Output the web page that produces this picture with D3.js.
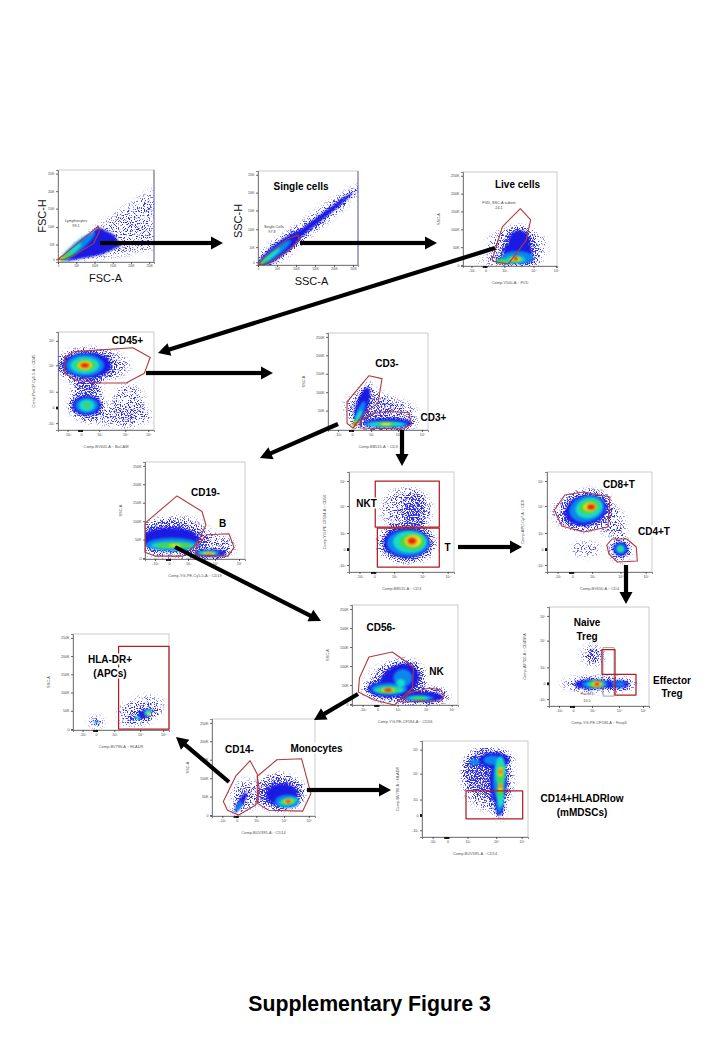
<!DOCTYPE html>
<html><head><meta charset="utf-8">
<script src="https://cdn.jsdelivr.net/npm/d3@7/dist/d3.min.js"></script>
<style>html,body{margin:0;padding:0;background:#fff}svg{display:block;font-family:"Liberation Sans",Arial,sans-serif}</style>
</head><body><div id="chart"></div>
<script>
// ---- axis tick readings (position along the axis in % of plot, and label) ----
const linearPos = [1, 20, 39, 58, 77, 96];
const linearLabels = ["0", "50K", "100K", "150K", "200K", "250K"];
const biexX = [10, 24, 43, 70, 94];
const biexXLive = [9, 24, 44, 75, 99];
const biexXLabels = ["-10³", "0", "10³", "10⁴", "10⁵"];
const biexY = [7, 23, 39, 66, 91];
const biexYLabels = ["-10³", "0", "10³", "10⁴", "10⁵"];
const zeroPileX = [21, 21.8, 22.6, 23.4, 24.2, 25];
const zeroPileY = [22, 22.6, 23.2, 23.8];

// ---- gates: polygons in % of plot ----
const lymphGate = [[0,3],[5,7],[42,39],[43,33],[37,20],[19,9],[7,3]];
const singleGate = [[0,1],[5,7],[30,28],[40,32],[41,27],[32,16],[12,3],[5,0]];
const liveGate = [[31,7],[42,42],[61,61],[72,49],[67,27],[48,2],[32,5]];
const cd45Gate = [[7,74],[17,80],[78,84],[96,74],[90,58],[71,48],[42,48],[18,51],[7,58]];
const cd3NegGate = [[41,56],[54,53],[50,28],[35,16],[25,2],[19,7],[19,29]];
const cd3PosGate = [[32,2],[33,10],[45,17],[58,19],[81,18],[83,6],[75,1]];
const cd19NegGate = [[0,37],[32,65],[57,49],[61,35],[52,16],[38,3],[10,3],[0,7]];
const bGate = [[50,4],[52,14],[62,25],[84,26],[89,12],[83,3]];
const nktGate = [[25,45],[25,91],[86,91],[86,45]];
const tGate = [[27,5],[27,44],[86,44],[86,5]];
const cd8Gate = [[7,62],[17,77],[35,80],[60,75],[58,45],[35,40],[14,46]];
const cd4Gate = [[57,27],[62,33],[76,33],[85,25],[86,11],[67,10],[59,18]];
const naiveGate = [[53,32],[53,57],[66,57],[66,32]];
const foxGreyGate = [[54,10],[54,59],[65,59],[65,10]];
const effectorGate = [[66,11],[66,32],[87,32],[87,11]];
const cd56NegGate = [[16,48],[38,53],[58,38],[57,17],[40,0],[21,5],[6,13],[7,27]];
const nkGate = [[47,3],[54,12],[73,17],[84,15],[87,10],[84,4]];
const hladrGate = [[47.5,87],[100,87],[100,1],[47.5,1]];
const cd14NegGate = [[37,57],[44,43],[44,18],[42,11],[26,1],[15,6],[11,15],[23,41]];
const monoGate = [[44,41],[63,58],[87,59],[96,23],[88,5],[55,6],[44,13],[46,27]];
const mdscGate = [[41.5,19],[41.5,48],[95,48],[95,19]];

// ---- density populations: [centre x, centre y, radius x, radius y, density level, tilt] ----
// level 0 sparse events, 0.5 denser events, 1..7 pseudocolour density blue to red
const fscWedge = [[0,0],[40,38],[100,80],[100,14],[45,4]];
const fscCore = [[0,0],[42,38],[58,30],[66,18],[45,8],[15,2]];
const fscPops = [[20,16,24,5,2,40],[13,10,15,3,3,40],[8,6,9,2,4,38],[3,2,4,1.2,5,35]];
const sscPops = [[50,40,60,8,0,38],[48,38,60,3,1,38],[22,17,28,7,1,38],[17,13,20,4.5,2,38],[12,9,13,2.5,3,38],[6,4,6,1.2,4,38]];
const livePops = [[57,21,32,20,0],[50,5,36,4,0],[59,24,16,16,0.5],[60,25,11,13,1],[58,15,15,12,1],[55,6,20,4,1],[58,9,17,7,2],[43,5,8,3,3],[56,7,10,4,3],
  [41,5,6,2.5,4],[56,7,7,3.5,4],[56,7.5,5,2.5,5],[56,7.5,3,1.8,6],[56,8,2,1.3,7]];
const cd45Pops = [[35,66,40,16,0],[30,42,16,14,0],[73,25,17,22,0],[60,14,40,9,0],[30,44,13,7,0.5],[30,66,25,13,1],[28,66,20,11,2],[28,66,15,8.5,3],
  [28,66,11,6,4],[28,66,7.5,4.5,5],[28,66,5.5,3,6],[28,66,3.5,1.8,7],[30,25,15,10,1],[30,25,12,8,2],[30,25,8,6,3],[30,25,3.5,2.5,4]];
const cd3Pops = [[42,24,26,16,0],[60,18,28,14,0],[34,25,19,6,1,72],[32,18,12,3.5,2,68],[30,13,8,2.5,3,65],[27,7,4.5,2.5,4,60],[27,6,3,2,5],[27,6,1.8,1.4,7],
  [60,7,24,5,1],[58,6,22,3.5,2],[58,6,18,2.8,3],[58,6,10,2,4],[58,6,5,1.4,5]];
const cd19Pops = [[28,22,38,22,0],[25,24,30,14,0.5],[25,21,28,11,1],[27,15,26,7,2],[28,14,22,4,3],[29,14,18,3,4],[30,14,6,1.5,5],
  [68,12,22,14,0],[65,6,16,4,1],[63,6,12,3,2],[63,6,9,2.4,3],[64,5.5,6,1.6,5],[64,5,3.5,1,6]];
const cd3TPops = [[55,62,24,22,0],[61,60,11,19,0.5],[55,29,22,15,1],[56,29,20,13,2],[58,30,16,11,3],[60,30,12,8,4],[61,31,8,6,5],[60,31,5,4,6],[60,31,3.2,2.4,7]];
const cd48Pops = [[35,60,30,18,0],[62,50,12,15,0],[37,23,14,7,0],[71,38,4,7,0],[37,62,20,15,1,15],[38,63,17,13,2,15],[40,64,13,10,3,15],
  [40,65,10,7,4,15],[41,65,6.5,4.5,5],[42,65,4.5,3.2,6],[42,65,3,2,7],[70,22,10,12,0],[70,23,7,7,1],[70,23,5,5,2],[70,23,3.5,3.5,3],[70,23,1.8,1.8,4]];
const tregPops = [[50,22,40,6,0],[44,51,12,10,0],[44,52,6,5,0.5],[44,22,18,5,1],[46,22,13,4,2],[47,22,9,3.5,3],[47,22,7,4,4],[48,22,4.5,3,5],[48,22,2.8,2.2,6],[48,22,1.6,1.4,7],
  [70,22,10,4,1],[71,22,5,2.5,2],[60,22,5,4,1],[64,23,1.5,2,2]];
const cd56Pops = [[42,22,28,20,0],[45,25,19,15,1,25],[35,16,20,8,1],[35,16,17,6,2],[48,27,9,9,2],[46,22,4,4,3],[35,15,14,4,3],[34,15,10,3,4],[34,15,6.5,2.2,5],[34,15,4.5,1.8,6],[34,15,3,1.2,7],
  [70,10,22,8,0],[66,8,20,5,1],[63,7,14,3,2],[63,7,10,2.2,3],[63,7,6,1.4,4]];
const apcPops = [[24,8,9,5,0],[24,8,5,2.5,0.5],[24,8,2.5,1.5,2],[70,20,25,14,0,20],[72,15,18,6,0.5,20],[75,17,8,4,1,25],[78,18,4,3,3,25],[67,13,3,1.5,3],[79,17,1.8,1.8,5]];
const monoPops = [[33,22,14,15,0],[28,14,11,3,1,60],[26,10,6,2,2,60],[66,24,23,18,0.5],[68,22,15,11,1],[73,15,12,7,2],[74,15,9,4,3,10],[74,15,7,3,4,10],[74,15,4.5,2.4,5],[74,15,3.2,1.7,6],[74,15,2,1.1,7]];
const mdscPops = [[62,60,24,32,0],[58,68,19,24,0.5],[60,78,19,9,0.5],[68,80,14,8,1],[72,58,8,24,1],[73,33,4,11,1],[73,60,6,22,2],[50,78,5,3,2],[73,33,2.6,8,2],[66,80,8,5,2],
  [74,68,5,16,3],[74,42,3.5,11,3],[74,65,3.5,11,4],[74,48,3,7,4],[74,68,2.5,5,5],[74,52,2.5,4,5],[74,68,1.7,3,6],[74,53,1.7,2.4,6]];

const densityColours = ["#2323e6","#1a1ae2","#0b86ec","#16dccc","#48d64c","#efe41e","#f57c10","#e81c10"];
const gateRed = "#b23a3c";

// ---- panel layout ----
const panels = [
 {frame:[58,170,154,262],pops:fscPops,wedges:[[fscWedge,0],[fscCore,1]],gates:[lymphGate],edge:true,xT:[0,19,38,57,76,95],xL:linearLabels,yT:[3,19,38,58,77,96],yL:linearLabels,fs:2.8,gateText:[["Lymphocytes",76,222],["99.1",76,227]]},
 {frame:[258,171,358,265],pops:sscPops,gates:[singleGate],edge:true,xT:[0,19,38,57,76,95],xL:linearLabels,yT:[3,19,38,58,77,96],yL:linearLabels,fs:2.8,gateText:[["Single Cells",274,228],["97.8",272,233]]},
 {frame:[463,172,557,266],pops:livePops,gates:[liveGate],xT:biexXLive,xL:biexXLabels,yT:linearPos,yL:linearLabels,xTitle:"Comp-V500-A :: FVD",yTitle:"SSC-A",gateText:[["FVD, SSC-A subset",499,204],["24.1",499,209]]},
 {frame:[58,332,154,430],pops:cd45Pops,gates:[cd45Gate],xT:biexX,xL:biexXLabels,yT:biexY,yL:biexYLabels,xTitle:"Comp-BV605-A :: BaCAM",yTitle:"Comp-PerCP-Cy5-5-A :: CD45"},
 {frame:[328,333,428,430],pops:cd3Pops,gates:[cd3NegGate,cd3PosGate],xT:biexX,xL:biexXLabels,yT:linearPos,yL:linearLabels,xTitle:"Comp-BB515-A :: CD3",yTitle:"SSC-A"},
 {frame:[145,462,245,559],pops:cd19Pops,gates:[cd19NegGate,bGate],xT:biexX,xL:biexXLabels,yT:linearPos,yL:linearLabels,xTitle:"Comp-YG-PE-Cy5-5-A :: CD19",yTitle:"SSC-A"},
 {frame:[349,472,454,572],pops:cd3TPops,gates:[nktGate,tGate],heavy:true,xT:biexX,xL:biexXLabels,yT:biexY,yL:biexYLabels,xTitle:"Comp-BB515-A :: CD3",yTitle:"Comp-YG-PE-CF594-A :: CD56"},
 {frame:[547,472,652,572],pops:cd48Pops,gates:[cd8Gate,cd4Gate],xT:biexX,xL:biexXLabels,yT:biexY,yL:biexYLabels,xTitle:"Comp-BV650-A :: CD4",yTitle:"Comp-APC-Cy7-A :: CD8"},
 {frame:[549,607,649,706],pops:tregPops,grey:[foxGreyGate],gates:[naiveGate,effectorGate],heavy:true,xT:biexX,xL:biexXLabels,yT:biexY,yL:biexYLabels,xTitle:"Comp-YG-PE-CF594-A :: Foxp3",yTitle:"Comp-AF700-A :: CD45RA",gateText:[["Factor3",587,695],["10.5",587,702]]},
 {frame:[352,605,458,705],pops:cd56Pops,gates:[cd56NegGate,nkGate],xT:biexX,xL:biexXLabels,yT:linearPos,yL:linearLabels,xTitle:"Comp-YG-PE-CF594-A :: CD56",yTitle:"SSC-A"},
 {frame:[73,634,169,730],pops:apcPops,gates:[hladrGate],heavy:true,xT:biexX,xL:biexXLabels,yT:linearPos,yL:linearLabels,xTitle:"Comp-BV786-A :: HLADR",yTitle:"SSC-A"},
 {frame:[212,719,315,816],pops:monoPops,gates:[cd14NegGate,monoGate],xT:biexX,xL:biexXLabels,yT:linearPos,yL:linearLabels,xTitle:"Comp-BUV395-A :: CD14",yTitle:"SSC-A"},
 {frame:[422,741,528,837],pops:mdscPops,gates:[mdscGate],heavy:true,xT:biexX,xL:biexXLabels,yT:biexY,yL:biexYLabels,xTitle:"Comp-BUV395-A :: CD14",yTitle:"Comp-BV786-A :: HLADR"}
];

const arrows = [[100,243,223,243],[300,243,437,243],[495,248,158,353],[146,373,273,373],[338,424,260,458],[402,430,402,466],
  [175,547,321,621],[458,547,522,547],[626,565,626,604],[358,694,314,720],[229,782,176,737],[307,790,391,790]];

// [text, centre x, centre y, white backing]
const labels = [["Single cells",301,186],["Live cells",517.5,184],["CD45+",127.5,340],["CD3-",387,363],["CD3+",433.5,417],
 ["CD19-",205.5,492],["B",222.5,523],["NKT",366.5,503,1],["T",447.5,547],["CD8+T",619,484],["CD4+T",654,531,1],
 ["Naive",587,622],["Treg",587,636],["Effector",672,680],["Treg",672,693],["CD56-",381,627],["NK",436.5,671],
 ["HLA-DR+",110,659,1],["(APCs)",110,673,1],["CD14-",239.5,749],["Monocytes",316.5,748,1],["CD14+HLADRlow",582,798],["(mMDSCs)",582,812]];
const bigLabels = [["FSC-A",105.5,278,0],["SSC-A",311.5,281,0],["FSC-H",42,216,-90],["SSC-H",238,221,-90]];

// ---- drawing ----
const svg = d3.select("#chart").append("svg").attr("width",720).attr("height",1040).attr("viewBox","0 0 720 1040");
const defs = svg.append("defs");
const blur = defs.append("filter").attr("id","soft").attr("x","-20%").attr("y","-20%").attr("width","140%").attr("height","140%")
  .attr("color-interpolation-filters","sRGB");
blur.append("feGaussianBlur").attr("stdDeviation",0.8);
const sp = defs.append("filter").attr("id","speck").attr("filterUnits","userSpaceOnUse").attr("x",0).attr("y",0).attr("width",720).attr("height",1040)
  .attr("color-interpolation-filters","sRGB");
sp.append("feGaussianBlur").attr("in","SourceAlpha").attr("stdDeviation",3.2).attr("result","b");
sp.append("feTurbulence").attr("type","fractalNoise").attr("baseFrequency",0.85).attr("numOctaves",2).attr("seed",7).attr("result","n");
sp.append("feColorMatrix").attr("in","n").attr("type","matrix").attr("values","0 0 0 0 0  0 0 0 0 0  0 0 0 0 0  3.6 0 0 0 -1.3").attr("result","na");
sp.append("feComposite").attr("in","b").attr("in2","na").attr("operator","arithmetic").attr("k1",0).attr("k2",1).attr("k3",1).attr("k4",-1).attr("result","m");
const ct = sp.append("feComponentTransfer").attr("in","m").attr("result","mask");
ct.append("feFuncA").attr("type","linear").attr("slope",2.8);
sp.append("feFlood").attr("flood-color","#2e2eea").attr("result","f");
sp.append("feComposite").attr("in","f").attr("in2","mask").attr("operator","in").attr("result","dots");
sp.append("feGaussianBlur").attr("in","dots").attr("stdDeviation",0.3);

function drawPanel(p,i){
  const [L,T,R,B] = p.frame;
  const x = d3.scaleLinear([0,100],[L,R]), y = d3.scaleLinear([0,100],[B,T]);
  const g = svg.append("g").attr("class","panel");
  const fs = p.fs || 3.6;
  g.append("rect").attr("x",L).attr("y",T).attr("width",R-L).attr("height",B-T).attr("fill","#fff").attr("stroke","#bdbdbd").attr("stroke-width",0.8);
  defs.append("clipPath").attr("id","c"+i).append("rect").attr("x",L).attr("y",T).attr("width",R-L).attr("height",B-T);
  const plot = g.append("g").attr("clip-path",`url(#c${i})`);
  const ell = (sel,d,grow=1)=>{
    const [cx,cy,rx,ry,,a=0]=d;
    sel.attr("rx",(x(rx)-x(0))*grow).attr("ry",(y(0)-y(ry))*grow).attr("transform",`translate(${x(cx)},${y(cy)}) rotate(${-a})`);
  };
  const line = d3.line().x(d=>x(d[0])).y(d=>y(d[1]));
  const specks = plot.append("g").attr("filter","url(#speck)");
  (p.wedges||[]).filter(w=>w[1]===0).forEach(w=>specks.append("path").attr("d",line(w[0])+"Z").attr("fill","#000").attr("fill-opacity",0.36));
  p.pops.filter(d=>d[4]<=1).forEach(d=>{
    specks.append("ellipse").call(ell,d,d[4]===1?1.22:1).attr("fill","#000").attr("fill-opacity",d[4]===0?0.36:d[4]===1?0.85:0.7);
  });
  const solid = plot.append("g").attr("filter","url(#soft)");
  (p.wedges||[]).filter(w=>w[1]>=1).forEach(w=>solid.append("path").attr("d",line(w[0])+"Z").attr("fill",densityColours[w[1]]));
  p.pops.filter(d=>d[4]>=1).slice().sort((a,b)=>a[4]-b[4]).forEach(d=>{
    solid.append("ellipse").call(ell,d).attr("fill",densityColours[d[4]]);
  });
  if(p.edge) g.append("line").attr("x1",R).attr("x2",R).attr("y1",T).attr("y2",B).attr("stroke","#4a4ab0").attr("stroke-width",0.8);
  // axes
  const xa = g.append("g").attr("transform",`translate(0,${B})`).call(d3.axisBottom(x).tickValues(p.xT).tickFormat((d,k)=>p.xL[k]).tickSize(2).tickPadding(1.5));
  const ya = g.append("g").attr("transform",`translate(${L},0)`).call(d3.axisLeft(y).tickValues(p.yT).tickFormat((d,k)=>p.yL[k]).tickSize(2).tickPadding(1.5));
  [xa,ya].forEach(a=>{
    a.select(".domain").attr("stroke","#555").attr("stroke-width",0.7);
    a.selectAll(".tick line").attr("stroke","#222").attr("stroke-width",0.7);
    a.selectAll("text").attr("font-size",fs).attr("fill","#444").attr("font-family","Liberation Sans, Arial, sans-serif");
  });
  if(!p.fs){
    g.append("g").attr("transform",`translate(0,${B})`).call(d3.axisBottom(x).tickValues(zeroPileX).tickFormat("").tickSize(2))
      .call(s=>{s.select(".domain").remove();s.selectAll("line").attr("stroke","#000").attr("stroke-width",0.9);});
    if(p.yL===biexYLabels) g.append("g").attr("transform",`translate(${L},0)`).call(d3.axisLeft(y).tickValues(zeroPileY).tickFormat("").tickSize(2))
      .call(s=>{s.select(".domain").remove();s.selectAll("line").attr("stroke","#000").attr("stroke-width",0.9);});
  }
  if(p.xTitle) g.append("text").attr("x",(L+R)/2).attr("y",B+17.5).attr("text-anchor","middle").attr("font-size",3.9).attr("fill","#555").text(p.xTitle);
  if(p.yTitle) g.append("text").attr("transform",`translate(${L-23},${(T+B)/2}) rotate(-90)`).attr("text-anchor","middle").attr("font-size",3.9).attr("fill","#555").text(p.yTitle);
  // gates
  (p.grey||[]).forEach(q=>g.append("path").attr("d",line(q)+"Z").attr("fill","none").attr("stroke","#8d8d8d").attr("stroke-width",0.8));
  p.gates.forEach(q=>g.append("path").attr("d",line(q)+"Z").attr("fill","none").attr("stroke",p.heavy?"#b01e22":gateRed).attr("stroke-width",p.heavy?1.25:1.1).attr("stroke-linejoin","round"));
  (p.gateText||[]).forEach(t=>g.append("text").attr("x",t[1]).attr("y",t[2]).attr("text-anchor","middle").attr("font-size",3.8).attr("fill","#444").text(t[0]));
}
panels.forEach(drawPanel);

// labels with optional white backing
const lab = svg.append("g").attr("font-weight","700").attr("font-size",10).attr("fill","#000").attr("text-anchor","middle");
labels.forEach(l=>{
  const t = lab.append("text").attr("x",l[1]).attr("y",l[2]).attr("dy","0.35em").text(l[0]);
  if(l[3]){
    const b = t.node().getBBox();
    lab.insert("rect","text").attr("x",b.x-1).attr("y",b.y).attr("width",b.width+2).attr("height",b.height).attr("fill","#fff");
  }
});
const big = svg.append("g").attr("font-size",11).attr("fill","#111").attr("text-anchor","middle");
bigLabels.forEach(l=>big.append("text").attr("transform",`translate(${l[1]},${l[2]}) rotate(${l[3]})`).attr("dy","0.35em").text(l[0]));

// arrows
const arrowG = svg.append("g");
arrows.forEach(([x1,y1,x2,y2])=>{
  const a = Math.atan2(y2-y1,x2-x1)*180/Math.PI, len = Math.hypot(x2-x1,y2-y1), hl = 12, hw = 6.5;
  const ar = arrowG.append("g").attr("transform",`translate(${x1},${y1}) rotate(${a})`);
  ar.append("rect").attr("x",0).attr("y",-2.1).attr("width",len-hl+1).attr("height",4.2).attr("fill","#000");
  ar.append("path").attr("d",`M${len},0L${len-hl},${-hw}L${len-hl},${hw}Z`).attr("fill","#000");
});

svg.append("text").attr("x",369.5).attr("y",1004).attr("dy","0.35em").attr("text-anchor","middle").attr("font-weight","700").attr("font-size",21.3).attr("fill","#000").text("Supplementary Figure 3");
</script></body></html>
